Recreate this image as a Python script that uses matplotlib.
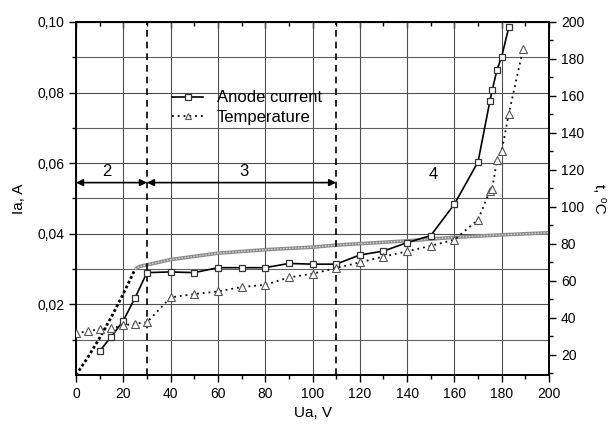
import matplotlib
matplotlib.use("Agg")
import matplotlib.pyplot as plt
from matplotlib.ticker import FuncFormatter, MultipleLocator, FixedLocator, NullFormatter

plt.rcParams['font.family'] = ['Liberation Sans', 'DejaVu Sans']

# Anode current (left axis, A)
ua_current = [10, 15, 20, 25, 30, 40, 50, 60, 70, 80, 90, 100, 110, 120, 130, 140, 150,
              160, 170, 175, 176, 178, 180, 183]
ia_current = [0.0068, 0.0109, 0.0154, 0.0219, 0.0290, 0.0292, 0.0290, 0.0304, 0.0304, 0.0304,
              0.0316, 0.0314, 0.0314, 0.0340, 0.0351, 0.0375, 0.0395,
              0.0484, 0.0604, 0.0776, 0.0807, 0.0864, 0.0902, 0.0985]

# Temperature (right axis, deg C)
ua_temp = [0, 5, 10, 15, 20, 25, 30, 40, 50, 60, 70, 80, 90, 100, 110, 120, 130, 140, 150,
           160, 170, 175, 176, 178, 180, 183, 189]
temp = [31.7, 32.6, 33.9, 34.4, 35.8, 36.8, 37.5, 51.0, 52.8, 54.2, 56.6, 57.8, 61.8, 63.8,
        66.9, 69.9, 73.1, 75.9, 78.9, 82.2, 93.0, 108.6, 109.9, 125.4, 130.3, 150.3, 185.2]

# Model curves (left axis)
ua_model_low = [0, 5, 10, 15, 20, 25]
ia_model_low = [0.0, 0.0050, 0.0105, 0.0165, 0.0230, 0.0300]
ua_model_high = [25, 27, 30, 40, 60, 80, 100, 110, 140, 160, 180, 200]
ia_model_high = [0.0300, 0.0308, 0.0312, 0.0327, 0.0345, 0.0355, 0.0362, 0.0368, 0.0380,
                 0.0390, 0.0397, 0.0403]

region_bounds = [0, 30, 110]
region_labels = ['2', '3', '4']
region_label_x = [13, 71, 151]
region_label_y = [0.0576, 0.0576, 0.0567]

fig = plt.figure(figsize=(6.13, 4.26), dpi=100)
ax = fig.add_axes([0.124, 0.1197, 0.7716, 0.8287])
ax2 = ax.twinx()

ax.set_xlim(0, 200)
ax.set_ylim(0, 0.10)
ax2.set_ylim(9, 200)

# grid
ax.xaxis.set_major_locator(MultipleLocator(20))
ax.xaxis.set_minor_locator(MultipleLocator(10))
ax.yaxis.set_major_locator(FixedLocator([0.02, 0.04, 0.06, 0.08, 0.10]))
ax.yaxis.set_minor_locator(FixedLocator([0.01, 0.03, 0.05, 0.07, 0.09]))
ax.grid(True, which='major', axis='both', color='#505050', lw=0.8)
ax.grid(True, which='minor', axis='y', color='#606060', lw=0.8)
ax.set_axisbelow(True)

ax.yaxis.set_major_formatter(FuncFormatter(lambda v, p: f"{v:.2f}".replace('.', ',')))
ax.tick_params(axis='x', which='major', direction='out', length=5, width=1, labelsize=10)
ax.tick_params(axis='x', which='minor', direction='out', length=3, width=1)
ax.tick_params(axis='y', which='major', direction='out', length=5, width=1, labelsize=10)
ax.tick_params(axis='y', which='minor', direction='out', length=3, width=1)

# top axis ticks (inward, no labels)
top = ax.secondary_xaxis('top')
top.xaxis.set_major_locator(MultipleLocator(20))
top.xaxis.set_minor_locator(MultipleLocator(10))
top.xaxis.set_major_formatter(NullFormatter())
top.tick_params(axis='x', which='major', direction='in', length=4, width=1)
top.tick_params(axis='x', which='minor', direction='in', length=3, width=1)

ax2.yaxis.set_major_locator(MultipleLocator(20))
ax2.yaxis.set_minor_locator(FixedLocator([10, 30, 50, 70, 90, 110, 130, 150, 170, 190]))
ax2.yaxis.set_major_formatter(FuncFormatter(lambda v, p: f"{int(v)}" if v >= 20 else ""))
ax2.tick_params(axis='y', which='major', direction='out', length=5, width=1, labelsize=10)
ax2.tick_params(axis='y', which='minor', direction='out', length=3, width=1)

for a in (ax, ax2):
    for s in a.spines.values():
        s.set_linewidth(1.2)

# model curves
ax.plot(ua_model_low, ia_model_low, color='black', lw=2.0, linestyle=(0, (1, 0.9)), zorder=3)
ax.plot(ua_model_high, ia_model_high, color='#8c8c8c', lw=2.6, zorder=3, solid_capstyle='butt')
ax.plot(ua_model_high, ia_model_high, color='#dcdcdc', lw=0.9, linestyle=(0, (1.2, 1.2)), zorder=3)

# region boundaries
for xb in region_bounds[1:]:
    ax.axvline(xb, color='black', lw=1.2, linestyle=(0, (4, 3)), zorder=4)

# region arrows
arrow_y = 0.0545
for x0, x1 in zip(region_bounds[:-1], region_bounds[1:]):
    ax.annotate('', xy=(x1, arrow_y), xytext=(x0, arrow_y),
                arrowprops=dict(arrowstyle='<|-|>', color='black', lw=1.2,
                                mutation_scale=10, shrinkA=0, shrinkB=0), zorder=5)
for lab, lx, ly in zip(region_labels, region_label_x, region_label_y):
    ax.text(lx, ly, lab, fontsize=12, ha='center', va='center', zorder=6)

# data
l1, = ax.plot(ua_current, ia_current, color='black', lw=1.2, marker='s', markersize=5,
              markerfacecolor='white', markeredgecolor='#333333', markeredgewidth=0.9,
              zorder=6, label='Anode current')
l2, = ax2.plot(ua_temp, temp, color='black', lw=1.3, linestyle=(0, (1, 2.2)), marker='^',
               markersize=6, markerfacecolor='white', markeredgecolor='#555555',
               markeredgewidth=0.8, zorder=6, label='Temperature')

ax.set_xlabel('Ua, V', fontsize=11, labelpad=4)
ax.set_ylabel('Ia, A', fontsize=11, labelpad=8)
ax2.set_ylabel('t, \u2070C', fontsize=11, rotation=270, labelpad=16)

leg = fig.legend(handles=[l1, l2], loc='center left',
                 bbox_to_anchor=(171.7 / 613, 1 - 107.5 / 426), frameon=False,
                 fontsize=12, handlelength=1.9, handletextpad=0.8, labelspacing=0.25,
                 borderpad=0, borderaxespad=0, markerscale=0.8)

fig.savefig('out.png', dpi=100)
